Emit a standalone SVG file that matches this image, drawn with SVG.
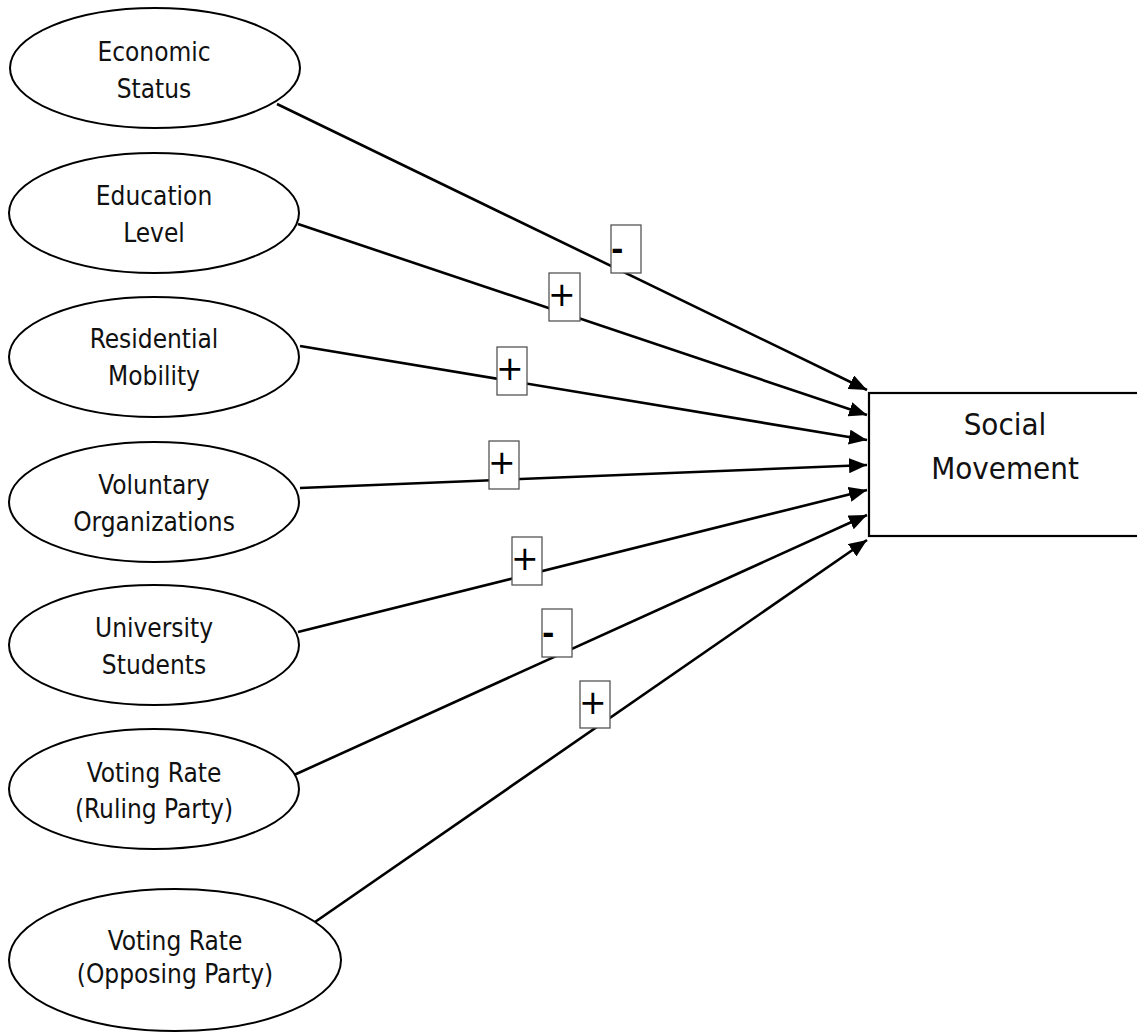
<svg xmlns="http://www.w3.org/2000/svg" width="1137" height="1033" viewBox="0 0 1137 1033">
  <defs>
    <marker id="arrow" markerUnits="userSpaceOnUse" markerWidth="19" markerHeight="15" refX="18" refY="7.5" orient="auto">
      <path d="M0,0 L18,7.5 L0,15 z" fill="#000"/>
    </marker>
    <style>
      .node ellipse { fill: #fff; stroke: #000; stroke-width: 2; }
      .node rect { fill: #fff; stroke: #000; stroke-width: 2.2; }
      .node text { font-family: "DejaVu Sans Condensed", "DejaVu Sans", Verdana, sans-serif; font-stretch: condensed; font-size: 26px; fill: #111; text-anchor: middle; }
      .node.target text { font-size: 31px; }
      .edge line { stroke: #000; stroke-width: 2.6; marker-end: url(#arrow); }
      .label rect { fill: #fff; stroke: #555; stroke-width: 1.3; }
      .label text { font-family: "DejaVu Sans", Verdana, sans-serif; font-size: 33px; fill: #000; }
      .label text.neg { font-weight: bold; font-size: 30px; }
    </style>
  </defs>

  <rect width="1137" height="1033" fill="#fff"/>

  <!-- causal links into Social Movement -->
  <g id="connectors">
    <g class="edge"><line x1="277" y1="104" x2="867" y2="390"/></g>
    <g class="edge"><line x1="298" y1="224" x2="867" y2="415"/></g>
    <g class="edge"><line x1="300" y1="346" x2="867" y2="440"/></g>
    <g class="edge"><line x1="300" y1="488" x2="867" y2="465"/></g>
    <g class="edge"><line x1="298" y1="632" x2="867" y2="490"/></g>
    <g class="edge"><line x1="294" y1="775" x2="867" y2="515"/></g>
    <g class="edge"><line x1="315" y1="922" x2="867" y2="540"/></g>

    <!-- sign of each effect -->
    <g class="label"><rect x="611" y="225" width="30" height="48"/><text class="neg" x="611" y="260">-</text></g>
    <g class="label"><rect x="549" y="273" width="31" height="48"/><text x="548" y="306">+</text></g>
    <g class="label"><rect x="497" y="347" width="30" height="48"/><text x="496" y="380">+</text></g>
    <g class="label"><rect x="489" y="441" width="30" height="48"/><text x="488" y="474">+</text></g>
    <g class="label"><rect x="512" y="537" width="30" height="48"/><text x="511" y="570">+</text></g>
    <g class="label"><rect x="542" y="609" width="30" height="48"/><text class="neg" x="542" y="644">-</text></g>
    <g class="label"><rect x="580" y="681" width="30" height="47"/><text x="579" y="714">+</text></g>
  </g>

  <g id="economic-status" class="node">
    <ellipse cx="155" cy="68" rx="145" ry="60"/>
    <text x="154" y="61">Economic</text>
    <text x="154" y="98">Status</text>
  </g>
  <g id="education-level" class="node">
    <ellipse cx="154" cy="213" rx="145" ry="60"/>
    <text x="154" y="205">Education</text>
    <text x="154" y="242">Level</text>
  </g>
  <g id="residential-mobility" class="node">
    <ellipse cx="154" cy="357" rx="145" ry="60"/>
    <text x="154" y="348">Residential</text>
    <text x="154" y="385">Mobility</text>
  </g>
  <g id="voluntary-organizations" class="node">
    <ellipse cx="154" cy="502" rx="145" ry="60"/>
    <text x="154" y="494">Voluntary</text>
    <text x="154" y="531">Organizations</text>
  </g>
  <g id="university-students" class="node">
    <ellipse cx="154" cy="645" rx="145" ry="60"/>
    <text x="154" y="637">University</text>
    <text x="154" y="674">Students</text>
  </g>
  <g id="voting-rate-ruling" class="node">
    <ellipse cx="154" cy="789" rx="145" ry="60"/>
    <text x="154" y="782">Voting Rate</text>
    <text x="154" y="818">(Ruling Party)</text>
  </g>
  <g id="voting-rate-opposing" class="node">
    <ellipse cx="175" cy="960" rx="166" ry="71"/>
    <text x="175" y="950">Voting Rate</text>
    <text x="175" y="983">(Opposing Party)</text>
  </g>

  <g id="social-movement" class="node target">
    <rect x="869" y="393" width="290" height="143"/>
    <text x="1005" y="435">Social</text>
    <text x="1005" y="479">Movement</text>
  </g>
</svg>
